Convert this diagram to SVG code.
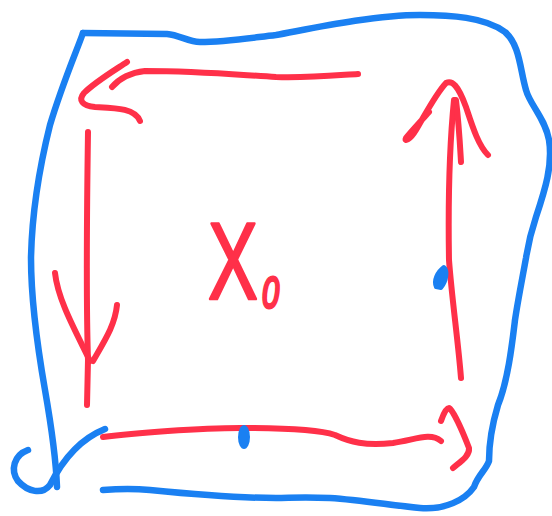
<svg xmlns="http://www.w3.org/2000/svg" width="552" height="516" viewBox="0 0 552 516">
<style>
.b{fill:none;stroke:#1a80f2;stroke-width:6.5;stroke-linecap:round;stroke-linejoin:round}
.r{fill:none;stroke:#ff3049;stroke-width:6;stroke-linecap:round;stroke-linejoin:round}
.t{fill:#ff3049;stroke:#ff3049;stroke-linejoin:round;font-family:"Liberation Sans",Arial,sans-serif}
</style>
<rect width="552" height="516" fill="#ffffff"/>
<g id="boundary">
<path class="b" d="M83,33 L167,34 C180,35 188,42 200,42 C225,42 250,38 276,35 C300,31 370,15 420,15 C450,15 485,17 505,32 C520,45 520,70 526,90 C530,105 545,118 549,140 C553,165 545,190 536,217 C530,235 528,245 526,258 C522,280 518,300 515,320 C512,345 508,380 498,405 C492,425 489,440 489,461 C486,470 478,475 474,487 C465,500 445,510 420,508 C390,505 360,500 330,498 C300,497 290,498 276,498 C230,498 180,493 150,490 C130,488 115,489 103,490"/>
<path class="b" d="M83,33 C75,55 62,85 50,125 C40,165 32,210 31,258 C31,300 38,350 45,390 C52,430 56,460 57,487"/>
<path class="b" d="M105,429 C85,437 65,455 50,485 C42,495 28,492 18,481 C10,470 14,455 28,450"/>
</g>
<g id="connectors">
<g id="top-arrow">
<path class="r" d="M112,87 C118,80 128,73 145,71 C200,71 240,75 276,77 C310,78 340,75 358,74"/>
<path class="r" d="M127,62 C115,70 95,82 84,93 C78,100 82,106 95,107 C115,108 135,108 140,121"/>
</g>
<g id="left-arrow">
<path class="r" d="M88,132 C87,200 86,300 88,360 L87,405"/>
<path class="r" d="M55,273 C58,300 75,330 90,361"/>
<path class="r" d="M117,305 C115,325 105,340 93,361"/>
</g>
<g id="right-arrow">
<path class="r" d="M461,378 C458,340 452,300 449,260 C448,200 450,140 454,100"/>
<path class="r" d="M429,112 C420,122 408,135 406,138 C404,142 410,140 416,130 C425,115 435,95 446,83 C452,80 458,85 466,107 C472,125 478,145 488,155"/>
<path class="r" d="M461,162 C460,145 459,125 456,100"/>
</g>
<g id="bottom-arrow">
<path class="r" d="M103,437 C133,433 200,428 240,428 C290,428 320,430 335,435 C350,442 365,446 393,443 C415,440 430,432 441,441"/>
<path class="r" d="M441,421 C443,415 446,408 449,408 C453,410 462,430 469,448 C470,456 460,462 453,468"/>
</g>
</g>
<g id="marks">
<ellipse cx="244" cy="437" rx="6" ry="12" fill="#1a80f2"/>
<path d="M436,287 C433,281 437,272 444,267 C448,270 447,281 441,288 Z" fill="#1a80f2" stroke="#1a80f2" stroke-width="4" stroke-linejoin="round"/>
</g>
<g id="label">
<text class="t" stroke-width="2.5" transform="translate(208,299) scale(0.68,1)" font-size="110">X</text>
<text class="t" stroke-width="3" transform="translate(262,308) scale(0.7,1)" font-size="44" font-style="italic">0</text>
</g>
</svg>
